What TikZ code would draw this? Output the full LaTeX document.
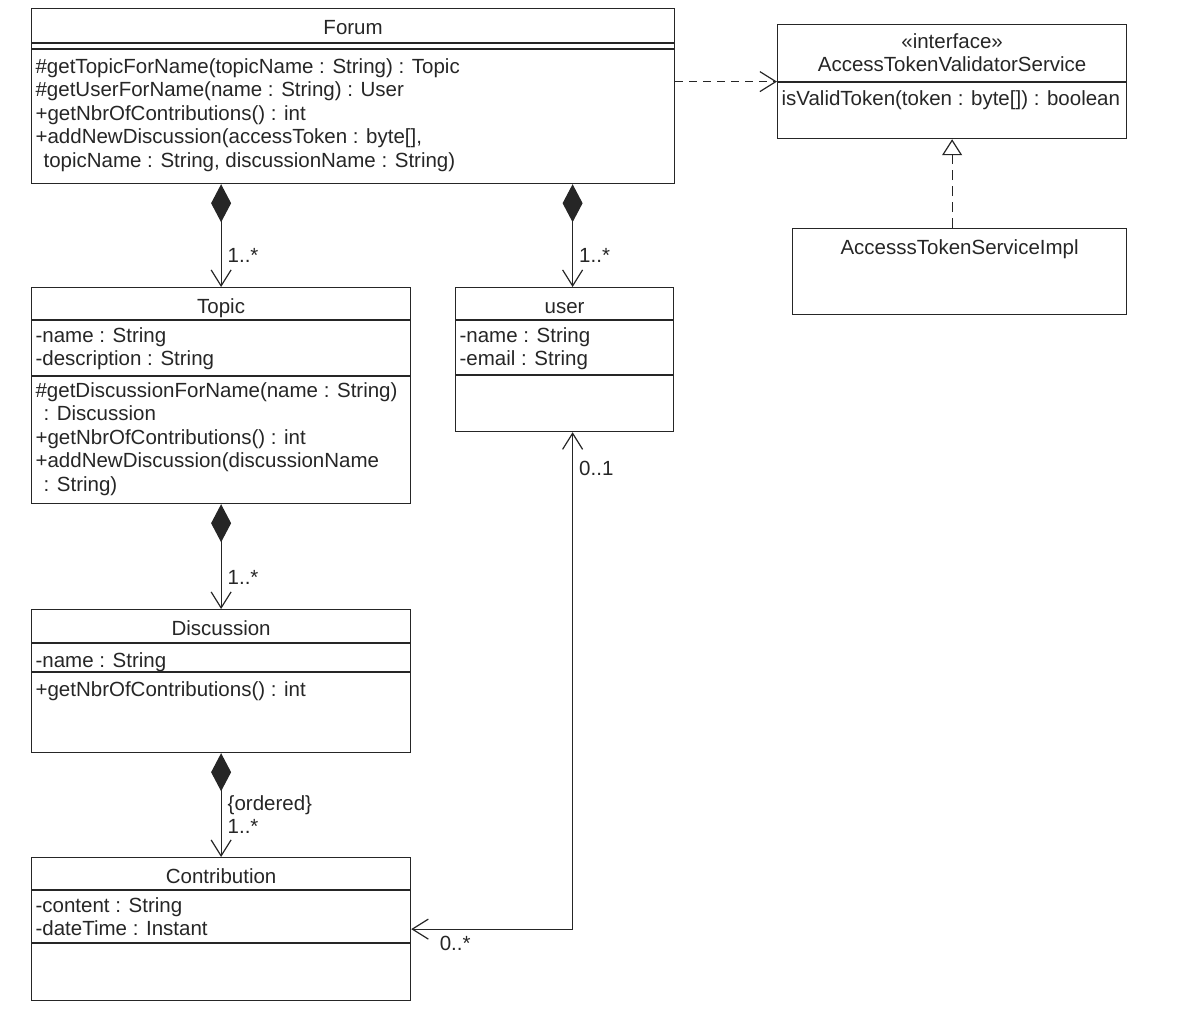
\documentclass[tikz,border=0pt]{standalone}
\usepackage{fontspec}
\setmainfont{Liberation Sans}
\usepackage{tikz}
\usetikzlibrary{arrows.meta}
\newcommand{\umlfont}{\fontsize{20.5pt}{23.5pt}\selectfont}
\tikzset{
  clsbox/.style={draw,anchor=north west,inner sep=0pt},
  clstitle/.style={anchor=north,align=center,inner sep=0pt,font=\umlfont,execute at begin node=\strut},
  clstext/.style={anchor=north west,align=left,inner sep=0pt,font=\umlfont,execute at begin node=\strut},
  mult/.style={anchor=west,align=left,inner sep=0pt,xshift=6pt,font=\umlfont},
  comp/.style={{Diamond[length=38pt,width=20pt]}-{Straight Barb[length=16pt,width=20pt]}},
  assoc/.style={{Straight Barb[length=16pt,width=20pt]}-{Straight Barb[length=16pt,width=20pt]}},
  dep/.style={dash pattern=on 8pt off 6pt,-{Straight Barb[length=16pt,width=20pt]}},
  real/.style={dash pattern=on 10pt off 6pt,-{Triangle[open,length=16pt,width=20pt]}}
}
\newcommand{\csep}[2]{\draw ([yshift=-#2pt]#1.north west) -- ([yshift=-#2pt]#1.north east);}

\begin{document}
\begin{tikzpicture}[x=1pt,y=-1pt,line width=1.2pt,color=black!85]
\useasboundingbox (0,0) rectangle (1202,1021);
% Forum
\node[clsbox,minimum width=643pt,minimum height=175pt] (forum) at (31,8) {};
\csep{forum}{35} \csep{forum}{41}
\node[clstitle] (forum-t) at ([yshift=-9pt]forum.north) {Forum};
\node[clstext] (forum-m) at ([xshift=4pt,yshift=-50pt]forum.north west)
  {\#getTopicForName(topicName : String) : Topic\\
   \#getUserForName(name : String) : User\\
   +getNbrOfContributions() : int\\
   +addNewDiscussion(accessToken : byte[],\\
   \hspace{8pt}topicName : String, discussionName : String)};
% interface + impl
\node[clsbox,minimum width=349pt,minimum height=114pt] (iface) at (777,24) {};
\csep{iface}{58}
\node[clstitle] (iface-t) at ([yshift=-9pt]iface.north) {«interface»\\AccessTokenValidatorService};
\node[clstext] (iface-m) at ([xshift=4pt,yshift=-64pt]iface.north west) {isValidToken(token : byte[]) : boolean};
\node[clsbox,minimum width=334pt,minimum height=86pt] (impl) at (792,228) {};
\node[clstitle] (impl-t) at ([yshift=-9pt]impl.north) {AccesssTokenServiceImpl};
% Topic
\node[clsbox,minimum width=379pt,minimum height=216pt] (topic) at (31,287) {};
\csep{topic}{33} \csep{topic}{89}
\node[clstitle] (topic-t) at ([yshift=-9pt]topic.north) {Topic};
\node[clstext] (topic-a) at ([xshift=4pt,yshift=-40pt]topic.north west)
  {-name : String\\-description : String};
\node[clstext] (topic-m) at ([xshift=4pt,yshift=-95pt]topic.north west)
  {\#getDiscussionForName(name : String)\\
   \hspace{8pt}: Discussion\\
   +getNbrOfContributions() : int\\
   +addNewDiscussion(discussionName\\
   \hspace{8pt}: String)};
% user
\node[clsbox,minimum width=218pt,minimum height=144pt] (user) at (455,287) {};
\csep{user}{33} \csep{user}{88}
\node[clstitle] (user-t) at ([yshift=-9pt]user.north) {user};
\node[clstext] (user-a) at ([xshift=4pt,yshift=-40pt]user.north west)
  {-name : String\\-email : String};
% Discussion
\node[clsbox,minimum width=379pt,minimum height=143pt] (disc) at (31,609) {};
\csep{disc}{34} \csep{disc}{63}
\node[clstitle] (disc-t) at ([yshift=-9pt]disc.north) {Discussion};
\node[clstext] (disc-a) at ([xshift=4pt,yshift=-41pt]disc.north west) {-name : String};
\node[clstext] (disc-m) at ([xshift=4pt,yshift=-70pt]disc.north west) {+getNbrOfContributions() : int};
% Contribution
\node[clsbox,minimum width=379pt,minimum height=143pt] (contrib) at (31,857) {};
\csep{contrib}{33} \csep{contrib}{86}
\node[clstitle] (contrib-t) at ([yshift=-9pt]contrib.north) {Contribution};
\node[clstext] (contrib-a) at ([xshift=4pt,yshift=-40pt]contrib.north west)
  {-content : String\\-dateTime : Instant};

% connectors
\coordinate (user-top) at ([xshift=8pt]user.north);
\coordinate (user-bot) at ([xshift=8pt]user.south);
\draw[comp] (forum.south -| topic.north) -- node[mult,pos=0.69] {1..*} (topic.north);
\draw[comp] (forum.south -| user-top) -- node[mult,pos=0.69] {1..*} (user-top);
\draw[comp] (topic.south) -- node[mult,pos=0.70] {1..*} (disc.north);
\draw[comp] (disc.south) -- node[mult,pos=0.59] {\{ordered\}\\1..*} (contrib.north);
\draw[assoc] (user-bot) |- node[mult,pos=0.036] {0..1} node[mult,pos=0.932,yshift=-14pt] {0..*} (contrib.east);
\draw[dep] (forum.east |- iface.west) -- (iface.west);
\draw[real] (impl.north -| iface.south) -- (iface.south);
\end{tikzpicture}
\end{document}
